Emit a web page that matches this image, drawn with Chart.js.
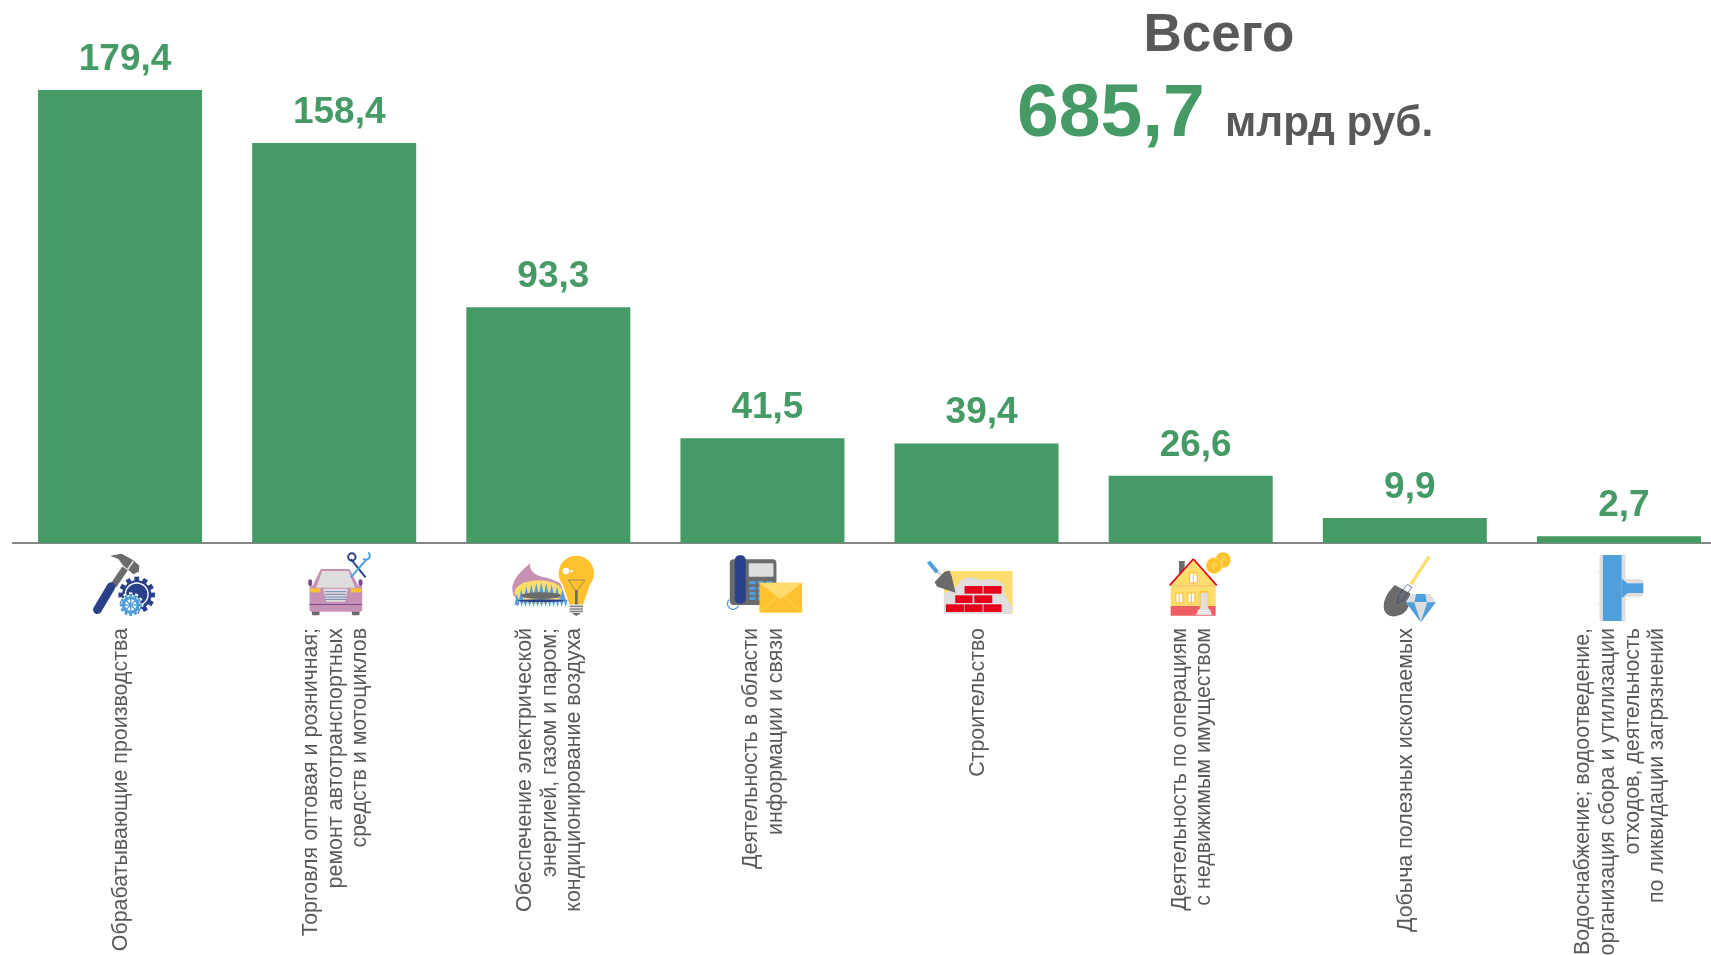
<!DOCTYPE html>
<html lang="ru">
<head>
<meta charset="utf-8">
<title>Всего 685,7 млрд руб.</title>
<script src="https://cdn.jsdelivr.net/npm/chart.js@4"></script>
<style>
    html, body { margin: 0; padding: 0; background: #fff; overflow: hidden; }
    #wrap { width: 1711px; height: 955px; overflow: hidden; }
    #wrap canvas { display: block; }
</style>
</head>
<body>
<div id="wrap"><canvas id="chart" width="1730" height="955"></canvas></div>
<script>
const categories = [
    ['Обрабатывающие производства'],
    ['Торговля оптовая и розничная;', 'ремонт автотранспортных', 'средств и мотоциклов'],
    ['Обеспечение электрической', 'энергией, газом и паром;', 'кондиционирование воздуха'],
    ['Деятельность в области', 'информации и связи'],
    ['Строительство'],
    ['Деятельность по операциям', 'с недвижимым имуществом'],
    ['Добыча полезных ископаемых'],
    ['Водоснабжение; водоотведение,', 'организация сбора и утилизации', 'отходов, деятельность', 'по ликвидации загрязнений']
];
const values = [179.4, 158.4, 93.3, 41.5, 39.4, 26.6, 9.9, 2.7];
const totalCaption = 'Всего';
const totalValue = '685,7';
const totalUnit = 'млрд руб.';

const GREEN = '#459a66';
const TEXT = '#595959';
const FONT = '"Liberation Sans", Arial, sans-serif';
const TICK_LINE = 24.7;

const GRAY = '#6b6b6b', LIGHT = '#dfdddd', NAVY = '#2a4189', BLUE = '#4f9fdc';
const YELLOW = '#fec22f', PALE = '#ffdc6e', RED = '#e5001c', PINK = '#c592b4', PURPLE = '#7a4a97';

// small drawing helpers for the pictograms under the axis
const poly = (c, color, pts) => {
    c.fillStyle = color;
    c.beginPath();
    pts.forEach((p, i) => i ? c.lineTo(p[0], p[1]) : c.moveTo(p[0], p[1]));
    c.closePath();
    c.fill();
};
const box = (c, color, x, y, w, h, r) => {
    c.fillStyle = color;
    c.beginPath();
    c.roundRect(x, y, w, h, r || 0);
    c.fill();
};
const line = (c, color, width, x1, y1, x2, y2, cap) => {
    c.strokeStyle = color;
    c.lineWidth = width;
    c.lineCap = cap || 'butt';
    c.beginPath();
    c.moveTo(x1, y1);
    c.lineTo(x2, y2);
    c.stroke();
};
const disc = (c, color, x, y, rx, ry) => {
    c.fillStyle = color;
    c.beginPath();
    c.ellipse(x, y, rx, ry || rx, 0, 0, Math.PI * 2);
    c.fill();
};
const ring = (c, color, width, x, y, r, a0, a1) => {
    c.strokeStyle = color;
    c.lineWidth = width;
    c.beginPath();
    c.arc(x, y, r, a0 === undefined ? 0 : a0, a1 === undefined ? Math.PI * 2 : a1);
    c.stroke();
};
const gear = (c, color, x, y, r, teeth) => {
    disc(c, color, x, y, r * 0.8);
    for (let i = 0; i < teeth; ++i) {
        const a = i / teeth * Math.PI * 2;
        line(c, color, r * 0.26, x, y, x + Math.cos(a) * r, y + Math.sin(a) * r);
    }
};

// every icon is drawn in 3x crop coordinates: [x shift from the bar centre, function]
const icons = [
    [-40, (c) => {
        poly(c, GRAY, [[90, 32], [125, 26], [160, 46], [178, 62], [176, 80], [160, 88], [130, 62], [115, 42]]);
        line(c, LIGHT, 5, 160, 48, 142, 74);
        line(c, GRAY, 20, 135, 70, 100, 122);
        line(c, NAVY, 26, 93, 125, 52, 194, 'round');
        gear(c, NAVY, 170, 150, 55, 12);
        disc(c, '#fff', 170, 148, 36);
        disc(c, NAVY, 170, 148, 32);
        gear(c, '#fff', 152, 180, 38, 12);
        gear(c, BLUE, 152, 180, 33, 12);
        disc(c, '#fff', 152, 180, 17);
        line(c, BLUE, 4, 134, 180, 170, 180);
        line(c, BLUE, 4, 152, 162, 152, 198);
        line(c, BLUE, 4, 140, 168, 164, 192);
        line(c, BLUE, 4, 140, 192, 164, 168);
    }],
    [-254, (c) => {
        disc(c, PURPLE, 690, 113, 6, 10);
        disc(c, PURPLE, 841, 113, 6, 10);
        box(c, GRAY, 695, 195, 23, 16, 3);
        box(c, GRAY, 815, 195, 23, 16, 3);
        poly(c, PINK, [[722, 72], [808, 72], [836, 125], [696, 125]]);
        box(c, PINK, 688, 122, 158, 78, 6);
        poly(c, LIGHT, [[726, 78], [805, 78], [824, 128], [708, 128]]);
        box(c, YELLOW, 690, 130, 30, 12);
        box(c, YELLOW, 812, 130, 32, 12);
        poly(c, LIGHT, [[730, 131], [803, 131], [795, 170], [738, 170]]);
        [140, 148, 156, 163].forEach((y) => line(c, '#6f86b4', 3, 735, y, 798, y));
        box(c, PURPLE, 688, 177, 158, 3);
        line(c, NAVY, 6, 812, 42, 856, 97);
        ring(c, NAVY, 6, 815, 36, 11);
        line(c, BLUE, 6, 860, 42, 812, 97);
        ring(c, BLUE, 6, 857, 32, 12, -0.9, 2.3);
    }],
    [-48, (c) => {
        c.fillStyle = PINK;
        c.beginPath();
        c.moveTo(90, 55);
        c.quadraticCurveTo(85, 85, 125, 95);
        c.quadraticCurveTo(155, 100, 180, 115);
        c.lineTo(200, 170);
        c.lineTo(70, 175);
        c.quadraticCurveTo(30, 160, 37, 120);
        c.quadraticCurveTo(45, 90, 90, 55);
        c.fill();
        disc(c, PALE, 115, 142, 72, 36);
        [[50, 145], [63, 132], [78, 124], [93, 118], [108, 114], [123, 112], [138, 114], [154, 118], [170, 124], [186, 132]].forEach((p) => {
            poly(c, BLUE, [[p[0] - 7, p[1] + 34], [p[0], p[1]], [p[0] + 7, p[1] + 34]]);
        });
        disc(c, GRAY, 122, 152, 60, 10);
        for (let x = 52; x <= 196; x += 12) {
            poly(c, BLUE, [[x - 6, 164], [x + 6, 164], [x, 186]]);
        }
        disc(c, NAVY, 122, 167, 70, 4);
        disc(c, YELLOW, 228, 85, 53);
        poly(c, YELLOW, [[186, 115], [270, 115], [248, 180], [208, 180]]);
        box(c, LIGHT, 208, 178, 40, 26, 2);
        [184, 192, 199].forEach((y) => line(c, GRAY, 3, 208, y, 248, y));
        poly(c, GRAY, [[214, 204], [242, 204], [228, 213]]);
        disc(c, '#fff', 197, 78, 10);
        disc(c, '#fff', 214, 78, 4);
        line(c, GRAY, 2, 204, 105, 254, 105);
        line(c, GRAY, 2, 204, 105, 228, 140);
        line(c, GRAY, 2, 254, 105, 228, 140);
        line(c, GRAY, 8, 228, 135, 228, 178);
    }],
    [-262, (c) => {
        ring(c, BLUE, 4, 698, 176, 17, 0.3, 3.9);
        box(c, GRAY, 688, 43, 140, 137, 12);
        box(c, NAVY, 703, 31, 33, 145, 14);
        box(c, LIGHT, 745, 55, 74, 40, 2);
        [108, 125, 140, 155].forEach((y) => {
            [747, 772, 797].forEach((x) => box(c, BLUE, x, y, 18, 10));
        });
        box(c, YELLOW, 777, 113, 128, 90);
        poly(c, PALE, [[777, 113], [905, 113], [841, 163]]);
        line(c, PALE, 2, 777, 203, 830, 155);
        line(c, PALE, 2, 905, 203, 852, 155);
    }],
    [-56, (c) => {
        box(c, PALE, 70, 78, 206, 129);
        c.fillStyle = LIGHT;
        c.beginPath();
        c.moveTo(70, 145);
        c.quadraticCurveTo(105, 135, 122, 105);
        c.quadraticCurveTo(150, 88, 180, 105);
        c.quadraticCurveTo(230, 95, 250, 120);
        c.quadraticCurveTo(250, 150, 262, 165);
        c.quadraticCurveTo(282, 190, 270, 207);
        c.lineTo(70, 207);
        c.fill();
        [[132, 123, 54], [189, 123, 54], [104, 151, 52], [161, 151, 54], [76, 178, 54], [132, 178, 54], [189, 178, 54]].forEach((b) => {
            box(c, RED, b[0], b[1], b[2], 23);
        });
        line(c, GRAY, 2, 50, 82, 84, 100);
        line(c, BLUE, 12, 24, 50, 50, 82);
        poly(c, GRAY, [[70, 82], [86, 76], [93, 92], [105, 143], [50, 125], [42, 112]]);
    }],
    [-270, (c) => {
        box(c, GRAY, 775, 48, 17, 45);
        poly(c, PALE, [[818, 42], [888, 121], [747, 121]]);
        line(c, RED, 5, 818, 42, 888, 121);
        line(c, RED, 5, 818, 42, 747, 121);
        box(c, PALE, 750, 121, 135, 62);
        line(c, '#f6a667', 2, 750, 122, 885, 122);
        box(c, '#ee5f63', 750, 183, 135, 29);
        [[805, 82, 26, 33], [764, 143, 24, 32], [800, 143, 24, 32]].forEach((w) => {
            box(c, YELLOW, w[0], w[1], w[2], w[3]);
            box(c, '#fff', w[0] + 3, w[1] + 3, w[2] - 6, w[3] - 6);
            line(c, YELLOW, 3, w[0] + w[2] / 2, w[1], w[0] + w[2] / 2, w[1] + w[3]);
        });
        box(c, YELLOW, 837, 138, 26, 52);
        box(c, LIGHT, 840, 143, 21, 50);
        poly(c, LIGHT, [[838, 190], [864, 190], [875, 210], [825, 210]]);
        [196, 203].forEach((y) => line(c, '#fff', 2, 830, y, 870, y));
        disc(c, YELLOW, 907, 45, 23);
        disc(c, PALE, 880, 62, 25);
        disc(c, YELLOW, 880, 62, 22);
        line(c, PALE, 3, 878, 52, 878, 74);
        line(c, PALE, 3, 905, 35, 905, 56);
        ring(c, PALE, 3, 882, 58, 5);
        ring(c, PALE, 3, 909, 40, 5);
    }],
    [-44, (c) => {
        line(c, PALE, 10, 205, 35, 150, 118);
        c.fillStyle = GRAY;
        c.beginPath();
        c.moveTo(102, 120);
        c.lineTo(148, 145);
        c.quadraticCurveTo(150, 190, 128, 205);
        c.quadraticCurveTo(85, 228, 70, 195);
        c.quadraticCurveTo(62, 160, 102, 120);
        c.fill();
        c.strokeStyle = NAVY;
        c.lineWidth = 2;
        c.beginPath();
        c.moveTo(140, 118);
        c.lineTo(153, 126);
        c.lineTo(126, 165);
        c.lineTo(110, 175);
        c.lineTo(113, 152);
        c.closePath();
        c.stroke();
        poly(c, LIGHT, [[150, 147], [208, 147], [225, 172], [180, 232], [135, 172]]);
        poly(c, BLUE, [[166, 147], [193, 147], [198, 171], [161, 171]]);
        poly(c, BLUE, [[135, 172], [160, 172], [180, 232]]);
        poly(c, BLUE, [[199, 172], [225, 172], [180, 232]]);
    }],
    [-258, (c) => {
        box(c, LIGHT, 716, 30, 78, 198);
        box(c, LIGHT, 790, 103, 57, 52, 10);
        box(c, BLUE, 726, 30, 56, 198);
        box(c, BLUE, 782, 115, 65, 29);
        poly(c, BLUE, [[782, 100], [782, 118], [800, 116]]);
        poly(c, BLUE, [[782, 160], [782, 142], [800, 144]]);
        box(c, LIGHT, 711, 77, 5, 5);
        box(c, LIGHT, 711, 176, 5, 5);
        box(c, LIGHT, 830, 100, 4, 4);
        box(c, LIGHT, 830, 154, 4, 4);
    }]
];

const totalsPlugin = {
    id: 'labelsAndIcons',
    beforeDraw(chart) {
        // the library starts a rotated multi-line tick at the bar centre, the picture centres the block
        chart.scales.x.getLabelItems().forEach((item, i) => {
            if (!item.centred) {
                item.options.translation[0] += 1.5 - (categories[i].length - 1) * TICK_LINE / 2;
                item.centred = true;
            }
        });
    },
    afterDraw(chart) {
        const c = chart.ctx;
        const xs = chart.scales.x;
        const ys = chart.scales.y;
        const base = ys.getPixelForValue(0);

        c.save();
        c.textBaseline = 'alphabetic';
        c.textAlign = 'center';
        c.fillStyle = GREEN;
        c.font = 'bold 37px ' + FONT;
        values.forEach((v, i) => {
            c.fillText(v.toFixed(1).replace('.', ','), xs.getPixelForTick(i) + 5, ys.getPixelForValue(v) - 20);
        });

        icons.forEach((icon, i) => {
            c.save();
            c.translate(xs.getPixelForTick(i) + icon[0], base + 2);
            c.scale(1 / 3, 1 / 3);
            icon[1](c);
            c.restore();
        });

        // total in the upper right
        c.textAlign = 'center';
        c.fillStyle = TEXT;
        c.font = 'bold 53px ' + FONT;
        c.fillText(totalCaption, 1219, 51);
        c.textAlign = 'left';
        c.fillStyle = GREEN;
        c.font = 'bold 75px ' + FONT;
        c.fillText(totalValue, 1017, 136);
        c.fillStyle = TEXT;
        c.font = 'bold 42.3px ' + FONT;
        c.fillText(totalUnit, 1225, 136);
        c.restore();
    }
};

new Chart(document.getElementById('chart').getContext('2d'), {
    type: 'bar',
    data: {
        labels: categories,
        datasets: [{
            data: values,
            backgroundColor: GREEN,
            borderWidth: 0,
            categoryPercentage: 0.766,
            barPercentage: 1
        }]
    },
    options: {
        responsive: false,
        animation: false,
        layout: { autoPadding: false, padding: { left: 13, right: 4, top: 0, bottom: 0 } },
        scales: {
            x: {
                afterFit: (scale) => {
                    scale.height = 412;
                    scale.paddingLeft = 0;
                    scale.paddingRight = 0;
                },
                grid: { display: false, drawTicks: false },
                border: { display: true, color: '#868686', width: 2 },
                ticks: {
                    autoSkip: false,
                    minRotation: 90,
                    maxRotation: 90,
                    padding: 85,
                    color: TEXT,
                    font: { family: FONT, size: 21.4, lineHeight: TICK_LINE / 21.4 }
                }
            },
            y: {
                display: false,
                min: 0,
                max: 215
            }
        },
        plugins: {
            legend: { display: false },
            tooltip: { enabled: false }
        }
    },
    plugins: [totalsPlugin]
});
</script>
</body>
</html>
